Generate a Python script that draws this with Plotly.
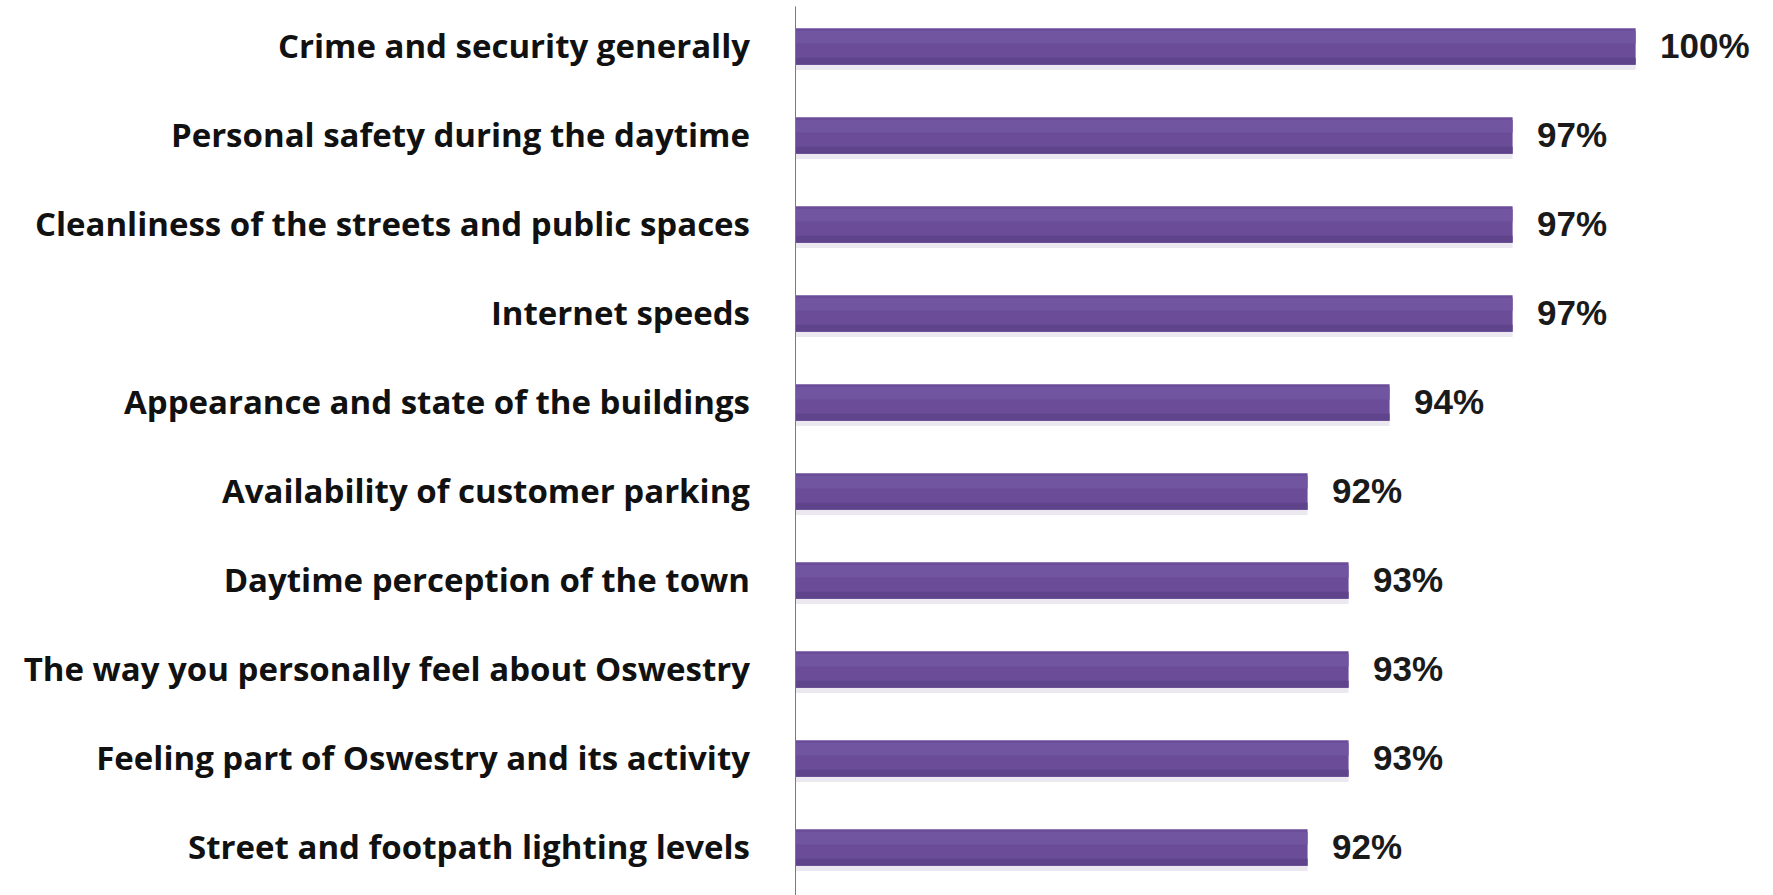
import plotly.graph_objects as go

# Survey items, top to bottom
categories = [
    "Crime and security generally",
    "Personal safety during the daytime",
    "Cleanliness of the streets and public spaces",
    "Internet speeds",
    "Appearance and state of the buildings",
    "Availability of customer parking",
    "Daytime perception of the town",
    "The way you personally feel about Oswestry",
    "Feeling part of Oswestry and its activity",
    "Street and footpath lighting levels",
]
values = [100, 97, 97, 97, 94, 92, 93, 93, 93, 92]
value_labels = [f"{v}%" for v in values]

BAR_COLOR = "#6a4c99"
BAR_LIGHT = "#7155a1"
BAR_DARK = "#5f448c"
SHADOW = "rgba(120, 95, 150, 0.14)"
LABEL_FONT = "Open Sans"
VALUE_FONT = "Liberation Sans"
BAR_W = 0.41
X0 = 79.5

fig = go.Figure()


def band(color, offset, width):
    # one horizontal band of every bar, used to give the bars a soft shading
    fig.add_trace(go.Bar(
        x=values, y=categories, orientation="h", base=0,
        width=width, offset=offset,
        marker=dict(color=color, line=dict(width=0)),
        hoverinfo="skip",
    ))


band(SHADOW, -BAR_W / 2 - 0.06, 0.06)          # drop shadow under the bar
band(BAR_COLOR, -BAR_W / 2, BAR_W)             # main bar
band(BAR_LIGHT, BAR_W / 2 - 0.17, 0.14)        # lighter upper part
band(BAR_DARK, -BAR_W / 2, 0.08)               # darker lower edge

# value labels to the right of each bar
for cat, v, lab in zip(categories, values, value_labels):
    fig.add_annotation(
        x=v, y=cat, xref="x", yref="y",
        text=f"<b>{lab}</b>", showarrow=False,
        xanchor="left", yanchor="middle", xshift=22, yshift=1,
        font=dict(family=VALUE_FONT, size=35, color="#1a1a1a"),
    )

# vertical axis line
fig.add_shape(type="line", xref="x", yref="paper",
              x0=X0, x1=X0, y0=-0.01, y1=0.995,
              line=dict(color="#7a7a7a", width=2))

fig.update_layout(
    width=1773, height=895,
    margin=dict(l=795, r=0, t=2, b=3),
    paper_bgcolor="white", plot_bgcolor="white",
    showlegend=False,
    barmode="overlay",
)
fig.update_xaxes(range=[X0, 103.35], visible=False, fixedrange=True)
fig.update_yaxes(
    categoryorder="array", categoryarray=categories[::-1],
    autorange=False, range=[-0.5, len(categories) - 0.5],
    showline=False, showgrid=False, zeroline=False,
    ticks="", ticklabelstandoff=44,
    tickfont=dict(family=LABEL_FONT, size=33, color="#111111", weight="bold"),
    fixedrange=True,
)

fig.write_html("out.html")
